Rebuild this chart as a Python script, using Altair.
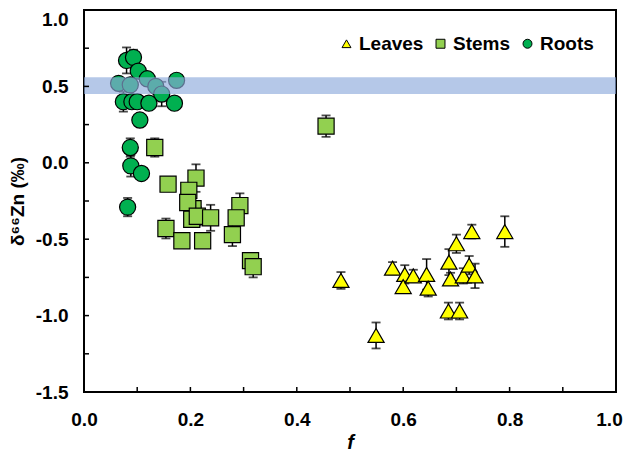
import altair as alt
import pandas as pd

groups = ["Leaves", "Stems", "Roots"]
group_colors = ["#FFFF00", "#92D050", "#00B050"]
group_shapes = ["triangle-up", "square", "circle"]

leaves_f = [0.483, 0.549, 0.580, 0.603, 0.600, 0.619, 0.644, 0.647, 0.686, 0.700,
            0.729, 0.689, 0.713, 0.724, 0.735, 0.685, 0.706, 0.791]
leaves_d = [-0.77, -1.13, -0.69, -0.73, -0.81, -0.74, -0.73, -0.82, -0.65, -0.53,
            -0.45, -0.76, -0.74, -0.67, -0.74, -0.97, -0.97, -0.45]
leaves_err = [0.055, 0.085, 0.04, 0.06, 0.04, 0.04, 0.10, 0.055, 0.085, 0.06,
              0.045, 0.04, 0.05, 0.06, 0.08, 0.055, 0.055, 0.10]

stems_f = [0.133, 0.158, 0.2105, 0.197, 0.205, 0.195, 0.2025, 0.213, 0.238, 0.293,
           0.286, 0.279, 0.154, 0.184, 0.223, 0.313, 0.318, 0.455]
stems_d = [0.10, -0.14, -0.10, -0.18, -0.30, -0.26, -0.37, -0.35, -0.36, -0.28,
           -0.36, -0.47, -0.43, -0.51, -0.51, -0.64, -0.68, 0.24]
stems_err = [0.06, 0.04, 0.09, 0.04, 0.05, 0.04, 0.04, 0.06, 0.085, 0.08,
             0.04, 0.075, 0.065, 0.04, 0.04, 0.05, 0.07, 0.07]

roots_f = [0.080, 0.093, 0.102, 0.119, 0.065, 0.087, 0.135, 0.146, 0.174, 0.074,
           0.090, 0.100, 0.122, 0.170, 0.105, 0.087, 0.088, 0.108, 0.082]
roots_d = [0.67, 0.69, 0.60, 0.55, 0.52, 0.51, 0.50, 0.45, 0.54, 0.40,
           0.40, 0.40, 0.39, 0.39, 0.28, 0.10, -0.02, -0.07, -0.29]
roots_err = [0.085, 0.05, 0.04, 0.04, 0.04, 0.04, 0.04, 0.08, 0.04, 0.065,
             0.04, 0.04, 0.04, 0.04, 0.04, 0.06, 0.07, 0.04, 0.06]

band_x = [0.0, 1.0]
band_y = [0.45, 0.56]

x_label_values = [0.0, 0.2, 0.4, 0.6, 0.8, 1.0]
x_tick_values = [0.0, 0.1, 0.2, 0.3, 0.4, 0.5, 0.6, 0.7, 0.8, 0.9, 1.0]
y_label_values = [-1.5, -1.0, -0.5, 0.0, 0.5, 1.0]
y_tick_values = [-1.5, -1.25, -1.0, -0.75, -0.5, -0.25, 0.0, 0.25, 0.5, 0.75, 1.0]

rows = []
for g, fs, ds, es in [("Leaves", leaves_f, leaves_d, leaves_err),
                      ("Stems", stems_f, stems_d, stems_err),
                      ("Roots", roots_f, roots_d, roots_err)]:
    for f, d, e in zip(fs, ds, es):
        rows.append({"group": g, "f": f, "d": d, "lo": d - e, "hi": d + e})
df = pd.DataFrame(rows)

W, H = 532, 382
FONT = "Liberation Sans"
xs = alt.Scale(domain=[0, 1], nice=False, zero=False)
ys = alt.Scale(domain=[-1.5, 1.0], nice=False, zero=False)

x_axis = alt.Axis(values=x_label_values, format=".1f", title="f", ticks=False, tickSize=0,
                  domain=False, grid=False, labelFlush=False, labelPadding=18, titlePadding=3,
                  labelOffset={"condition": {"test": "datum.value >= 1", "value": -7}, "value": 0},
                  labelFontSize=19, labelFontWeight="bold", labelFont=FONT,
                  titleFontSize=20, titleFontWeight="bold", titleFontStyle="italic",
                  titleFont=FONT, labelColor="black", titleColor="black")
y_axis = alt.Axis(values=y_label_values,
                  labelExpr="datum.value < 0 ? '-' + format(-datum.value, '.1f') : format(datum.value, '.1f')",
                  labelBaseline={"condition": {"test": "datum.value >= 1", "value": "top"}, "value": "middle"},
                  labelFlush=False,
                  title="δ⁶⁶Zn (‰)", ticks=False, tickSize=0, domain=False, grid=False,
                  labelPadding=16, titlePadding=8,
                  labelFontSize=19, labelFontWeight="bold", labelFont=FONT,
                  titleFontSize=19, titleFontWeight="bold", titleFont=FONT,
                  labelColor="black", titleColor="black")

legend = alt.Legend(title=None, orient="none", legendX=253, legendY=24, direction="horizontal",
                    labelFontSize=19, labelFontWeight="bold", labelFont=FONT, labelColor="black",
                    symbolSize=80, symbolStrokeColor="black", symbolStrokeWidth=1,
                    columnPadding=7, labelOffset=3)

base = alt.Chart(df)

err_rule = base.mark_rule(color="black", strokeWidth=1.5).encode(
    x=alt.X("f:Q", scale=xs, axis=x_axis),
    y=alt.Y("lo:Q", scale=ys, axis=y_axis),
    y2="hi:Q",
)
cap_lo = base.mark_tick(orient="horizontal", color="black", size=9, thickness=1.8).encode(
    x=alt.X("f:Q", scale=xs, axis=x_axis),
    y=alt.Y("lo:Q", scale=ys, axis=y_axis),
)
cap_hi = base.mark_tick(orient="horizontal", color="black", size=9, thickness=1.8).encode(
    x=alt.X("f:Q", scale=xs, axis=x_axis),
    y=alt.Y("hi:Q", scale=ys, axis=y_axis),
)

points = base.mark_point(filled=True, size=260, stroke="black", strokeWidth=1.2, opacity=1).encode(
    x=alt.X("f:Q", scale=xs, axis=x_axis),
    y=alt.Y("d:Q", scale=ys, axis=y_axis),
    color=alt.Color("group:N", scale=alt.Scale(domain=groups, range=group_colors), legend=legend),
    shape=alt.Shape("group:N", scale=alt.Scale(domain=groups, range=group_shapes), legend=legend),
)

band_df = pd.DataFrame({"x0": [band_x[0]], "x1": [band_x[1]], "y0": [band_y[0]], "y1": [band_y[1]]})
band = alt.Chart(band_df).mark_rect(color="#8EAADB", opacity=0.65).encode(
    x=alt.X("x0:Q", scale=xs, axis=x_axis),
    x2="x1:Q",
    y=alt.Y("y0:Q", scale=ys, axis=y_axis),
    y2="y1:Q",
)

ytick = alt.Chart(pd.DataFrame({"v": y_tick_values})).mark_rule(color="black", strokeWidth=1.5).encode(
    y=alt.Y("v:Q", scale=ys, axis=y_axis),
    x=alt.value(0),
    x2=alt.value(5),
)
xtick = alt.Chart(pd.DataFrame({"v": x_tick_values})).mark_rule(color="black", strokeWidth=1.5).encode(
    x=alt.X("v:Q", scale=xs, axis=x_axis),
    y=alt.value(H),
    y2=alt.value(H - 5),
)

chart = alt.layer(err_rule, cap_lo, cap_hi, points, band, ytick, xtick).properties(
    width=W, height=H,
    autosize=alt.AutoSizeParams(type="none"),
    padding={"left": 76, "top": 2, "right": 8, "bottom": 62},
    background="white",
).configure_view(stroke="black", strokeWidth=2)

chart.save("out.html", embed_options={"renderer": "svg", "actions": False})
